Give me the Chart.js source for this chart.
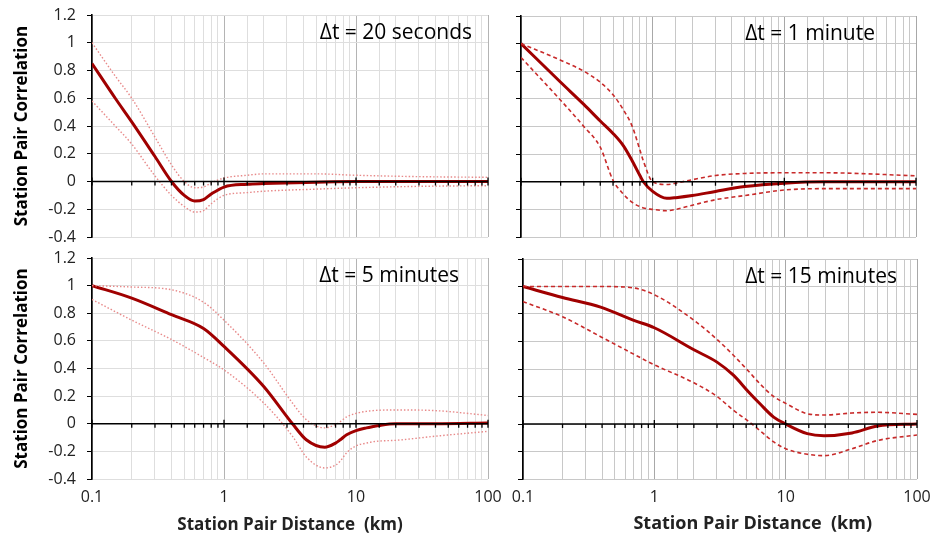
<!DOCTYPE html>
<html>
<head>
<meta charset="utf-8">
<script src="https://cdn.jsdelivr.net/npm/chart.js@4.4.1/dist/chart.umd.min.js"></script>
<style>
  html, body { margin: 0; padding: 0; background: #fff; }
  body { width: 938px; height: 535px; position: relative; overflow: hidden; }
  .panel { position: absolute; }
  #p1 { left: 0; top: 0; width: 500px; height: 245px; }
  #p2 { left: 500px; top: 0; width: 438px; height: 245px; }
  #p3 { left: 0; top: 240px; width: 515px; height: 295px; }
  #p4 { left: 500px; top: 240px; width: 438px; height: 295px; }
</style>
</head>
<body>
<div class="panel" id="p1"><canvas id="c1"></canvas></div>
<div class="panel" id="p2"><canvas id="c2"></canvas></div>
<div class="panel" id="p3"><canvas id="c3"></canvas></div>
<div class="panel" id="p4"><canvas id="c4"></canvas></div>
<script>
// distance (km) sample points and correlation values
const yTicks = [-0.4, -0.2, 0, 0.2, 0.4, 0.6, 0.8, 1, 1.2];
const xLabels = [0.1, 1, 10, 100];

// dt = 20 seconds
const d20 = [0.1, 0.15, 0.2, 0.3, 0.4, 0.5, 0.6, 0.7, 0.8, 1, 1.5, 2, 5, 10, 30, 100];
const mean20 = [0.85, 0.6, 0.43, 0.18, 0.0, -0.1, -0.14, -0.13, -0.09, -0.04, -0.02, -0.015, -0.005, 0, 0, 0];
const up20 = [1.0, 0.76, 0.6, 0.32, 0.12, 0.0, -0.045, -0.04, -0.01, 0.025, 0.045, 0.055, 0.055, 0.045, 0.035, 0.03];
const lo20 = [0.58, 0.4, 0.27, 0.04, -0.1, -0.18, -0.22, -0.21, -0.16, -0.1, -0.08, -0.07, -0.055, -0.045, -0.035, -0.03];

// dt = 1 minute
const d1 = [0.1, 0.2, 0.3, 0.4, 0.5, 0.6, 0.7, 0.8, 0.85, 1, 1.28, 1.5, 2, 3, 5, 10, 20, 100];
const mean1 = [1.0, 0.72, 0.56, 0.44, 0.35, 0.26, 0.15, 0.045, 0, -0.07, -0.12, -0.115, -0.1, -0.07, -0.035, -0.01, 0, 0];
const up1 = [1.0, 0.88, 0.8, 0.72, 0.63, 0.52, 0.4, 0.23, 0.15, 0.0, -0.02, -0.01, 0.015, 0.045, 0.06, 0.065, 0.065, 0.043];
const lo1 = [0.9, 0.59, 0.4, 0.25, 0.01, -0.09, -0.15, -0.18, -0.19, -0.2, -0.21, -0.2, -0.17, -0.13, -0.1, -0.06, -0.05, -0.05];

// dt = 5 minutes
const d5 = [0.1, 0.2, 0.4, 0.7, 1, 2, 3.3, 4.2, 5.8, 7, 7.6, 8.5, 10, 12, 13.5, 15, 20, 40, 100];
const mean5 = [1.0, 0.91, 0.79, 0.69, 0.56, 0.27, 0, -0.116, -0.17, -0.14, -0.116, -0.08, -0.05, -0.03, -0.02, -0.012, 0, 0, 0.005];
const up5 = [1.0, 0.99, 0.97, 0.88, 0.75, 0.44, 0.15, 0.03, -0.03, -0.005, 0.015, 0.05, 0.075, 0.09, 0.095, 0.098, 0.1, 0.095, 0.06];
const lo5 = [0.9, 0.75, 0.61, 0.48, 0.39, 0.15, -0.09, -0.24, -0.32, -0.3, -0.27, -0.21, -0.16, -0.14, -0.13, -0.125, -0.12, -0.09, -0.055];

// dt = 15 minutes
const d15 = [0.1, 0.2, 0.39, 0.69, 1, 2, 3, 4, 5.2, 6.4, 8.1, 10, 14.6, 19.6, 32, 50, 100];
const mean15 = [1.0, 0.92, 0.85, 0.755, 0.7, 0.54, 0.45, 0.355, 0.235, 0.145, 0.05, 0, -0.07, -0.085, -0.065, -0.015, 0];
const up15 = [1.0, 1.0, 1.0, 0.99, 0.94, 0.755, 0.615, 0.5, 0.385, 0.29, 0.2, 0.15, 0.075, 0.065, 0.08, 0.085, 0.07];
const lo15 = [0.89, 0.78, 0.635, 0.51, 0.43, 0.3, 0.2, 0.1, 0.02, -0.05, -0.13, -0.18, -0.22, -0.23, -0.18, -0.12, -0.08];

const FONT = "'Open Sans', 'DejaVu Sans', sans-serif";

function isDecade(v) {
  const l = Math.log10(v);
  return Math.abs(l - Math.round(l)) < 1e-6;
}

// black horizontal axis crossing at y = 0, with Excel-style tick marks
const zeroAxis = {
  id: 'zeroAxis',
  afterDatasetsDraw(chart) {
    const { ctx, chartArea, scales } = chart;
    const y0 = scales.y.getPixelForValue(0);
    ctx.save();
    ctx.strokeStyle = '#000';
    ctx.lineWidth = 1.6;
    ctx.beginPath();
    ctx.moveTo(chartArea.left, y0);
    ctx.lineTo(chartArea.right, y0);
    ctx.stroke();
    ctx.lineWidth = 1.3;
    scales.x.ticks.forEach(t => {
      const x = scales.x.getPixelForValue(t.value);
      ctx.beginPath();
      if (isDecade(t.value)) {
        ctx.moveTo(x, y0 - 4);
        ctx.lineTo(x, y0 + 4);
      } else {
        ctx.moveTo(x, y0);
        ctx.lineTo(x, y0 + 4);
      }
      ctx.stroke();
    });
    ctx.restore();
  }
};

// the "Δt = ..." label in the upper right of each panel
const panelLabel = {
  id: 'panelLabel',
  afterDraw(chart, args, opts) {
    const { ctx, chartArea } = chart;
    ctx.save();
    ctx.font = '21px ' + FONT;
    ctx.fillStyle = '#000';
    ctx.textAlign = 'right';
    ctx.textBaseline = 'middle';
    ctx.fillText(opts.text, chartArea.right - opts.dx, chartArea.top + 18);
    ctx.restore();
  }
};

function makePanel(id, cfg) {
  const mk = (xs, ys) => xs.map((x, i) => ({ x: x, y: ys[i] }));
  const bandStyle = cfg.dashed
    ? { borderColor: '#c82a2a', borderWidth: 1.6, borderDash: [4, 3] }
    : { borderColor: '#e88a8a', borderWidth: 1.4, borderDash: [1.5, 2] };

  new Chart(document.getElementById(id), {
    type: 'line',
    data: {
      datasets: [
        Object.assign({ label: 'upper', data: mk(cfg.d, cfg.up) }, bandStyle),
        Object.assign({ label: 'lower', data: mk(cfg.d, cfg.lo) }, bandStyle),
        { label: 'mean', data: mk(cfg.d, cfg.mean), borderColor: '#a00000', borderWidth: 3 }
      ]
    },
    options: {
      responsive: true,
      maintainAspectRatio: false,
      animation: false,
      events: [],
      layout: { padding: cfg.padding },
      elements: {
        point: { radius: 0 },
        line: { cubicInterpolationMode: 'monotone', fill: false }
      },
      plugins: {
        legend: { display: false },
        tooltip: { enabled: false },
        panelLabel: { text: cfg.label, dx: cfg.labelDx }
      },
      scales: {
        x: {
          type: 'logarithmic',
          min: 0.1,
          max: 100,
          afterFit: s => {
            s.height = cfg.xHeight;
            s.paddingLeft = 0;
            s.paddingRight = 0;
          },
          grid: {
            drawTicks: false,
            color: ctx => isDecade(ctx.tick.value) ? cfg.majorGrid : cfg.minorGrid,
            lineWidth: 1
          },
          border: { display: false },
          ticks: {
            display: cfg.showX,
            autoSkip: false,
            maxRotation: 0,
            padding: 9,
            color: '#222',
            font: { family: FONT, size: 16 },
            callback: v => (xLabels.some(l => Math.abs(l - v) < 1e-9) ? String(v) : '')
          },
          title: {
            display: cfg.showX,
            text: cfg.xTitle,
            color: '#222',
            font: { family: FONT, size: cfg.xTitleSize, weight: 'bold' },
            padding: { top: 2, bottom: 0 }
          }
        },
        y: {
          min: -0.4,
          max: 1.2,
          afterFit: s => {
            s.width = cfg.yWidth;
            s.paddingTop = 0;
            s.paddingBottom = 0;
          },
          afterBuildTicks: s => { s.ticks = yTicks.map(v => ({ value: v })); },
          grid: {
            color: cfg.minorGrid,
            tickColor: '#000',
            tickLength: 5,
            drawTicks: true
          },
          border: { color: '#000', width: 1.6 },
          ticks: {
            display: cfg.showY,
            padding: 11,
            color: '#222',
            font: { family: FONT, size: 16 },
            callback: v => String(parseFloat(v.toFixed(1)))
          },
          title: {
            display: cfg.showY,
            text: 'Station Pair Correlation',
            color: '#000',
            font: { family: FONT, size: 17, weight: 'bold' },
            padding: { top: 12, bottom: 0 }
          }
        }
      }
    },
    plugins: [zeroAxis, panelLabel]
  });
}

makePanel('c1', {
  d: d20, mean: mean20, up: up20, lo: lo20, dashed: false,
  label: '\u0394t = 20 seconds', labelDx: 16,
  padding: { left: 0, right: 12, top: 15, bottom: 0 },
  yWidth: 92, xHeight: 8, showX: false, showY: true,
  xTitle: '', xTitleSize: 17,
  majorGrid: '#b4b4b4', minorGrid: '#dedede'
});
makePanel('c2', {
  d: d1, mean: mean1, up: up1, lo: lo1, dashed: true,
  label: '\u0394t = 1 minute', labelDx: 41,
  padding: { left: 0, right: 22, top: 16, bottom: 0 },
  yWidth: 21, xHeight: 8, showX: false, showY: false,
  xTitle: '', xTitleSize: 17,
  majorGrid: '#a8a8a8', minorGrid: '#c8c8c8'
});
makePanel('c3', {
  d: d5, mean: mean5, up: up5, lo: lo5, dashed: false,
  label: '\u0394t = 5 minutes', labelDx: 29,
  padding: { left: 0, right: 27, top: 18, bottom: 0 },
  yWidth: 92, xHeight: 56, showX: true, showY: true,
  xTitle: 'Station Pair Distance  (km)', xTitleSize: 17,
  majorGrid: '#b4b4b4', minorGrid: '#dedede'
});
makePanel('c4', {
  d: d15, mean: mean15, up: up15, lo: lo15, dashed: true,
  label: '\u0394t = 15 minutes', labelDx: 20,
  padding: { left: 0, right: 21, top: 19, bottom: 0 },
  yWidth: 23, xHeight: 56, showX: true, showY: false,
  // the right-hand title sits a little right of centre in the original
  xTitle: '              Station Pair Distance  (km)', xTitleSize: 18,
  majorGrid: '#a8a8a8', minorGrid: '#c8c8c8'
});
</script>
</body>
</html>
